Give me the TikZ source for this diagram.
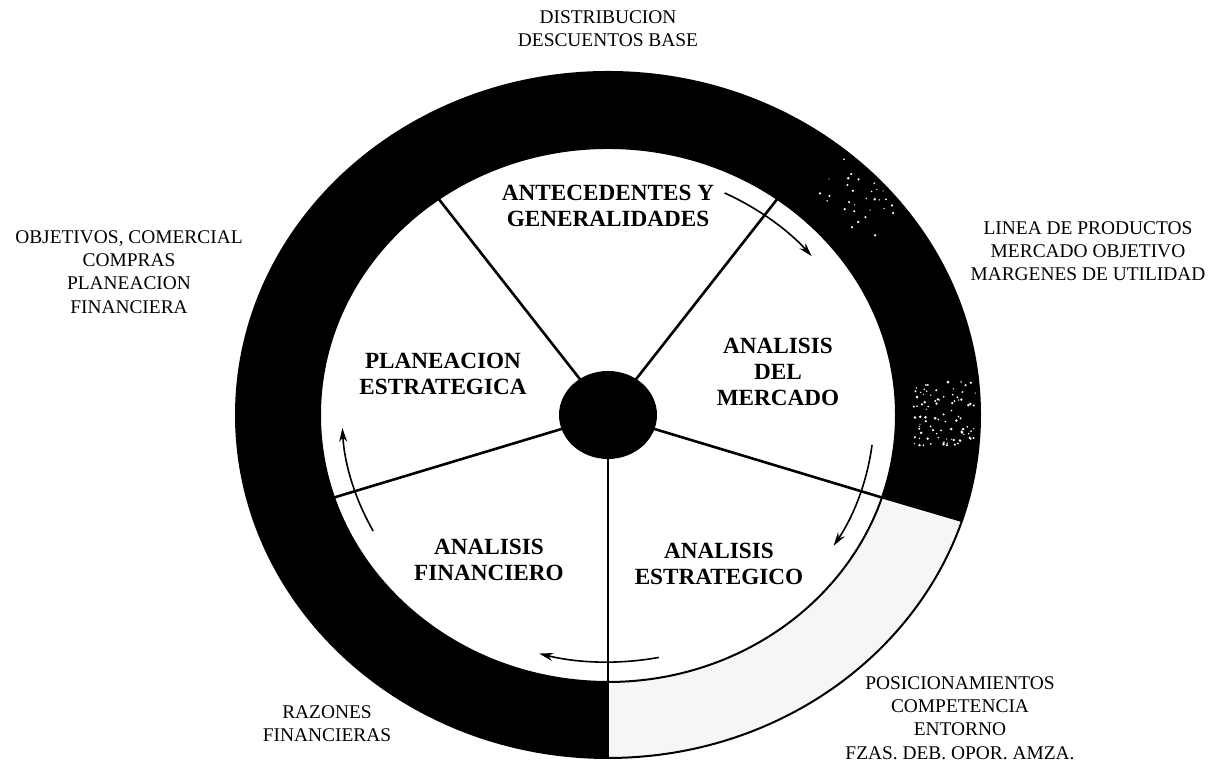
\documentclass[tikz,border=0pt]{standalone}
\usepackage{fontspec}
\setmainfont{Liberation Serif}
\usetikzlibrary{arrows.meta,calc,shapes.geometric}
\begin{document}
\begin{tikzpicture}[x=0.5pt,y=0.5pt,
  inlabel/.style={font=\bfseries\fontsize{11.6}{13}\selectfont, align=center, inner sep=0pt},
  outlabel/.style={font=\fontsize{9.7}{11.6}\selectfont, align=center, inner sep=0pt},
  spoke/.style={line width=1.3pt},
  flow/.style={line width=0.8pt, -{Stealth[length=7pt,width=4pt]}},
  rim/.style={line width=1pt}]
\useasboundingbox (0,0) rectangle (1212,763);
\coordinate (C) at (608,348);
% black ring
\fill[black, even odd rule] (C) ellipse [x radius=186pt, y radius=171.5pt]
  (C) ellipse [x radius=144pt, y radius=133.5pt];
% scan speckles on the right part of the ring (two clusters)
\pgfmathsetseed{7}
\foreach \k in {1,...,90}{
  \pgfmathsetmacro{\ta}{-6+rnd*12}
  \pgfmathsetmacro{\fr}{0.82+rnd*0.17}
  \pgfmathsetmacro{\rxa}{186*\fr}
  \pgfmathsetmacro{\rya}{171.5*\fr}
  \pgfmathsetmacro{\dr}{0.3+rnd*0.45}
  \fill[white] ($(C)+(\ta:\rxa pt and \rya pt)$) circle [radius=\dr pt];
}
\foreach \k in {1,...,30}{
  \pgfmathsetmacro{\ta}{36+rnd*14}
  \pgfmathsetmacro{\fr}{0.85+rnd*0.14}
  \pgfmathsetmacro{\rxa}{186*\fr}
  \pgfmathsetmacro{\rya}{171.5*\fr}
  \pgfmathsetmacro{\dr}{0.3+rnd*0.4}
  \fill[white] ($(C)+(\ta:\rxa pt and \rya pt)$) circle [radius=\dr pt];
}
% light segment
\coordinate (o1) at ($(C)+(-90:186pt and 171.5pt)$);
\coordinate (o2) at ($(C)+(-18:186pt and 171.5pt)$);
\coordinate (i1) at ($(C)+(-90:144pt and 133.5pt)$);
\coordinate (i2) at ($(C)+(-18:144pt and 133.5pt)$);
\fill[gray!7] (o1) arc[start angle=-90, end angle=-18, x radius=186pt, y radius=171.5pt]
  -- (i2) arc[start angle=-18, end angle=-90, x radius=144pt, y radius=133.5pt] -- cycle;
\draw[rim] (o1) -- (i1);
\draw[rim] (o2) -- (i2);
\draw[rim] (C) ellipse [x radius=186pt, y radius=171.5pt];
\draw[rim] (C) ellipse [x radius=144pt, y radius=133.5pt];
% spokes
\coordinate (s1) at ($(C)+(54:144pt and 133.5pt)$);
\coordinate (s2) at ($(C)+(126:144pt and 133.5pt)$);
\coordinate (s3) at ($(C)+(198:144pt and 133.5pt)$);
\coordinate (s4) at ($(C)+(270:144pt and 133.5pt)$);
\coordinate (s5) at ($(C)+(342:144pt and 133.5pt)$);
\draw[spoke] (C) -- (s1);
\draw[spoke] (C) -- (s2);
\draw[spoke] (C) -- (s3);
\draw[line width=1pt] (C) -- (s4);
\draw[spoke] (C) -- (s5);
\node[ellipse, fill=black, inner sep=0pt, minimum width=49pt, minimum height=44pt] (hub) at (C) {};
% flow arrows
\coordinate (a1) at ($(C)+(64:133pt and 123.5pt)$);
\coordinate (a2) at ($(C)+(-7:133pt and 123.5pt)$);
\coordinate (a3) at ($(C)+(-79:133pt and 123.5pt)$);
\coordinate (a4) at ($(C)+(208:133pt and 123.5pt)$);
\draw[flow] (a1) arc[start angle=64, end angle=40, x radius=133pt, y radius=123.5pt];
\draw[flow] (a2) arc[start angle=-7, end angle=-32, x radius=133pt, y radius=123.5pt];
\draw[flow] (a3) arc[start angle=-79, end angle=-105, x radius=133pt, y radius=123.5pt];
\draw[flow] (a4) arc[start angle=208, end angle=183, x radius=133pt, y radius=123.5pt];
% inner labels
\node[inlabel] (ant) at (608,557) {ANTECEDENTES Y\\GENERALIDADES};
\node[inlabel] (pla) at (443,389) {PLANEACION\\ESTRATEGICA};
\node[inlabel] (mer) at (778,391) {ANALISIS\\DEL\\MERCADO};
\node[inlabel] (fin) at (489,203.5) {ANALISIS\\FINANCIERO};
\node[inlabel] (est) at (719,199) {ANALISIS\\ESTRATEGICO};
% outer labels
\node[outlabel] (dis) at (608,734) {DISTRIBUCION\\DESCUENTOS BASE};
\node[outlabel] (obj) at (129,491) {OBJETIVOS, COMERCIAL\\COMPRAS\\PLANEACION\\FINANCIERA};
\node[outlabel] (lin) at (1088,512) {LINEA DE PRODUCTOS\\MERCADO OBJETIVO\\MARGENES DE UTILIDAD};
\node[outlabel] (raz) at (327,39.5) {RAZONES\\FINANCIERAS};
\node[outlabel] (pos) at (960,45) {POSICIONAMIENTOS\\COMPETENCIA\\ENTORNO\\FZAS. DEB. OPOR. AMZA.};
\end{tikzpicture}
\end{document}
